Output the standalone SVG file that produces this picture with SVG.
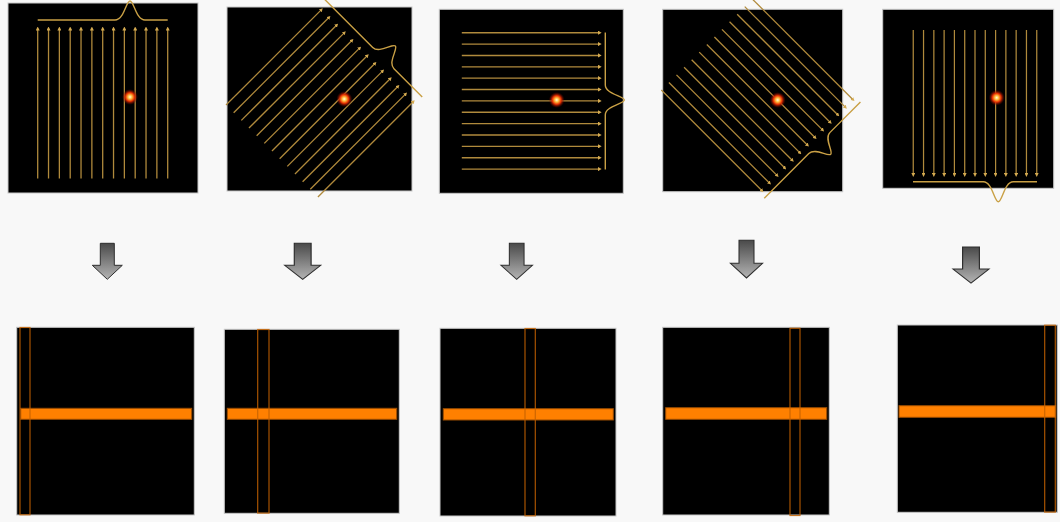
<svg xmlns="http://www.w3.org/2000/svg" xmlns:xlink="http://www.w3.org/1999/xlink" width="1060" height="522" viewBox="0 0 1060 522">
<style>
.panel{fill:#000;stroke:#c8c8c8;stroke-width:1}
.beam line{stroke:#b08a3c;stroke-width:1.3;marker-end:url(#tip)}
.prof{fill:none;stroke:#c9a045;stroke-width:1.4}
.bar{fill:#ff8000;stroke:#9a4c00;stroke-width:1}
.strip{fill:none;stroke:#c46200;stroke-width:1.2;stroke-opacity:0.85}
.garrow{fill:url(#gg);stroke:#2e2e2e;stroke-width:1}
</style>
<defs>
<marker id="tip" viewBox="0 0 6 6" refX="3" refY="3" markerWidth="4" markerHeight="4" markerUnits="userSpaceOnUse" orient="auto">
<path d="M0,0 L6,3 L0,6 z" fill="#d4aa50"/>
</marker>
<radialGradient id="dot">
<stop offset="0" stop-color="#fffbe0"/>
<stop offset="0.25" stop-color="#ffc040"/>
<stop offset="0.55" stop-color="#e83000"/>
<stop offset="1" stop-color="#600000" stop-opacity="0"/>
</radialGradient>
<linearGradient id="gg" x1="0" y1="0" x2="0" y2="1">
<stop offset="0" stop-color="#4a4a4a"/>
<stop offset="1" stop-color="#b4b4b4"/>
</linearGradient>
<g id="beam" class="beam">
<line x1="-65" y1="75" x2="-65" y2="-75"/>
<line x1="-54.17" y1="75" x2="-54.17" y2="-75"/>
<line x1="-43.33" y1="75" x2="-43.33" y2="-75"/>
<line x1="-32.5" y1="75" x2="-32.5" y2="-75"/>
<line x1="-21.67" y1="75" x2="-21.67" y2="-75"/>
<line x1="-10.83" y1="75" x2="-10.83" y2="-75"/>
<line x1="0" y1="75" x2="0" y2="-75"/>
<line x1="10.83" y1="75" x2="10.83" y2="-75"/>
<line x1="21.67" y1="75" x2="21.67" y2="-75"/>
<line x1="32.5" y1="75" x2="32.5" y2="-75"/>
<line x1="43.33" y1="75" x2="43.33" y2="-75"/>
<line x1="54.17" y1="75" x2="54.17" y2="-75"/>
<line x1="65" y1="75" x2="65" y2="-75"/>
</g>
<path id="downarrow" d="M-7,-36 L7,-36 L7,-14 L15,-14 L0,0 L-15,-14 L-7,-14 Z"/>
</defs>
<rect width="1060" height="522" fill="#f8f8f8"/>

<g id="scan1">
<rect class="panel" x="8" y="3" width="190" height="190"/>
<g transform="translate(102.7,103.5)">
<use href="#beam"/>
<path class="prof" d="M-65,-83.5 L12.3,-83.5 C21.3,-83.5 23.3,-102.5 27.3,-102.5 C31.3,-102.5 33.3,-83.5 42.3,-83.5 L65,-83.5"/>
</g>
<circle cx="130" cy="97" r="8" fill="url(#dot)"/>
</g>

<g id="scan2">
<rect class="panel" x="227" y="7" width="185" height="184"/>
<g transform="translate(319.7,103.3) rotate(45)">
<use href="#beam" transform="scale(1,0.9)"/>
<path class="prof" d="M-70,-77 L-2,-77 C7,-77 9,-94 13,-94 C17,-94 19,-77 28,-77 L68,-77"/>
</g>
<circle cx="344.3" cy="99" r="8" fill="url(#dot)"/>
</g>

<g id="scan3">
<rect class="panel" x="439.3" y="9.3" width="184" height="184"/>
<g transform="translate(530.8,100.9) rotate(90)">
<use href="#beam" transform="scale(1.049,0.92)"/>
<path class="prof" d="M-68.5,-74.5 L-15.9,-74.5 C-6.9,-74.5 -4.9,-93.5 -0.9,-93.5 C3.1,-93.5 5.1,-74.5 14.1,-74.5 L68.5,-74.5"/>
</g>
<circle cx="556.7" cy="100" r="8" fill="url(#dot)"/>
</g>

<g id="scan4">
<rect class="panel" x="662.7" y="9.3" width="180" height="182.4"/>
<g transform="translate(757.2,94.9) rotate(135)">
<use href="#beam" transform="scale(0.99,0.95)"/>
<path class="prof" d="M-68,-78 L-25,-78 C-16,-78 -14,-94 -10,-94 C-6,-94 -4,-78 5,-78 L68,-78"/>
</g>
<circle cx="777.7" cy="100" r="8" fill="url(#dot)"/>
</g>

<g id="scan5">
<rect class="panel" x="882.7" y="9.3" width="171" height="179"/>
<g transform="translate(975,102.5) rotate(180)">
<use href="#beam" transform="scale(0.95,0.967)"/>
<path class="prof" d="M-62,-79.2 L-38.3,-79.2 C-29.3,-79.2 -27.3,-99.2 -23.3,-99.2 C-19.3,-99.2 -17.3,-79.2 -8.3,-79.2 L62,-79.2"/>
</g>
<circle cx="996.7" cy="97.7" r="8" fill="url(#dot)"/>
</g>

<g id="connectors">
<use href="#downarrow" class="garrow" transform="translate(107.3,279.3)"/>
<use href="#downarrow" class="garrow" transform="translate(302.7,279.3) scale(1.2,1)"/>
<use href="#downarrow" class="garrow" transform="translate(516.7,279.3) scale(1.05,1)"/>
<use href="#downarrow" class="garrow" transform="translate(746.5,278) scale(1.07,1.05)"/>
<use href="#downarrow" class="garrow" transform="translate(971,283) scale(1.2,1)"/>
</g>

<g id="proj1">
<rect class="panel" x="16.7" y="327.3" width="177.6" height="187.7"/>
<rect class="bar" x="20.7" y="408.3" width="171" height="11"/>
<rect class="strip" x="20" y="327.5" width="10" height="187.3"/>
</g>

<g id="proj2">
<rect class="panel" x="224.3" y="329.3" width="175" height="184"/>
<rect class="bar" x="227.3" y="408.3" width="169.4" height="11"/>
<rect class="strip" x="257.7" y="329.5" width="11.3" height="183.6"/>
</g>

<g id="proj3">
<rect class="panel" x="440" y="328.3" width="176" height="187.7"/>
<rect class="bar" x="443.3" y="408.7" width="170" height="11.3"/>
<rect class="strip" x="525" y="328.5" width="10.3" height="187.3"/>
</g>

<g id="proj4">
<rect class="panel" x="662.7" y="327.3" width="166.6" height="187.7"/>
<rect class="bar" x="665.7" y="407.7" width="161" height="11.6"/>
<rect class="strip" x="790" y="328.3" width="10" height="187.2"/>
</g>

<g id="proj5">
<rect class="panel" x="897.3" y="325" width="160" height="187.3"/>
<rect class="bar" x="899" y="405.7" width="156.7" height="11.6"/>
<rect class="strip" x="1044.7" y="325.2" width="10.6" height="186.9"/>
</g>
</svg>
